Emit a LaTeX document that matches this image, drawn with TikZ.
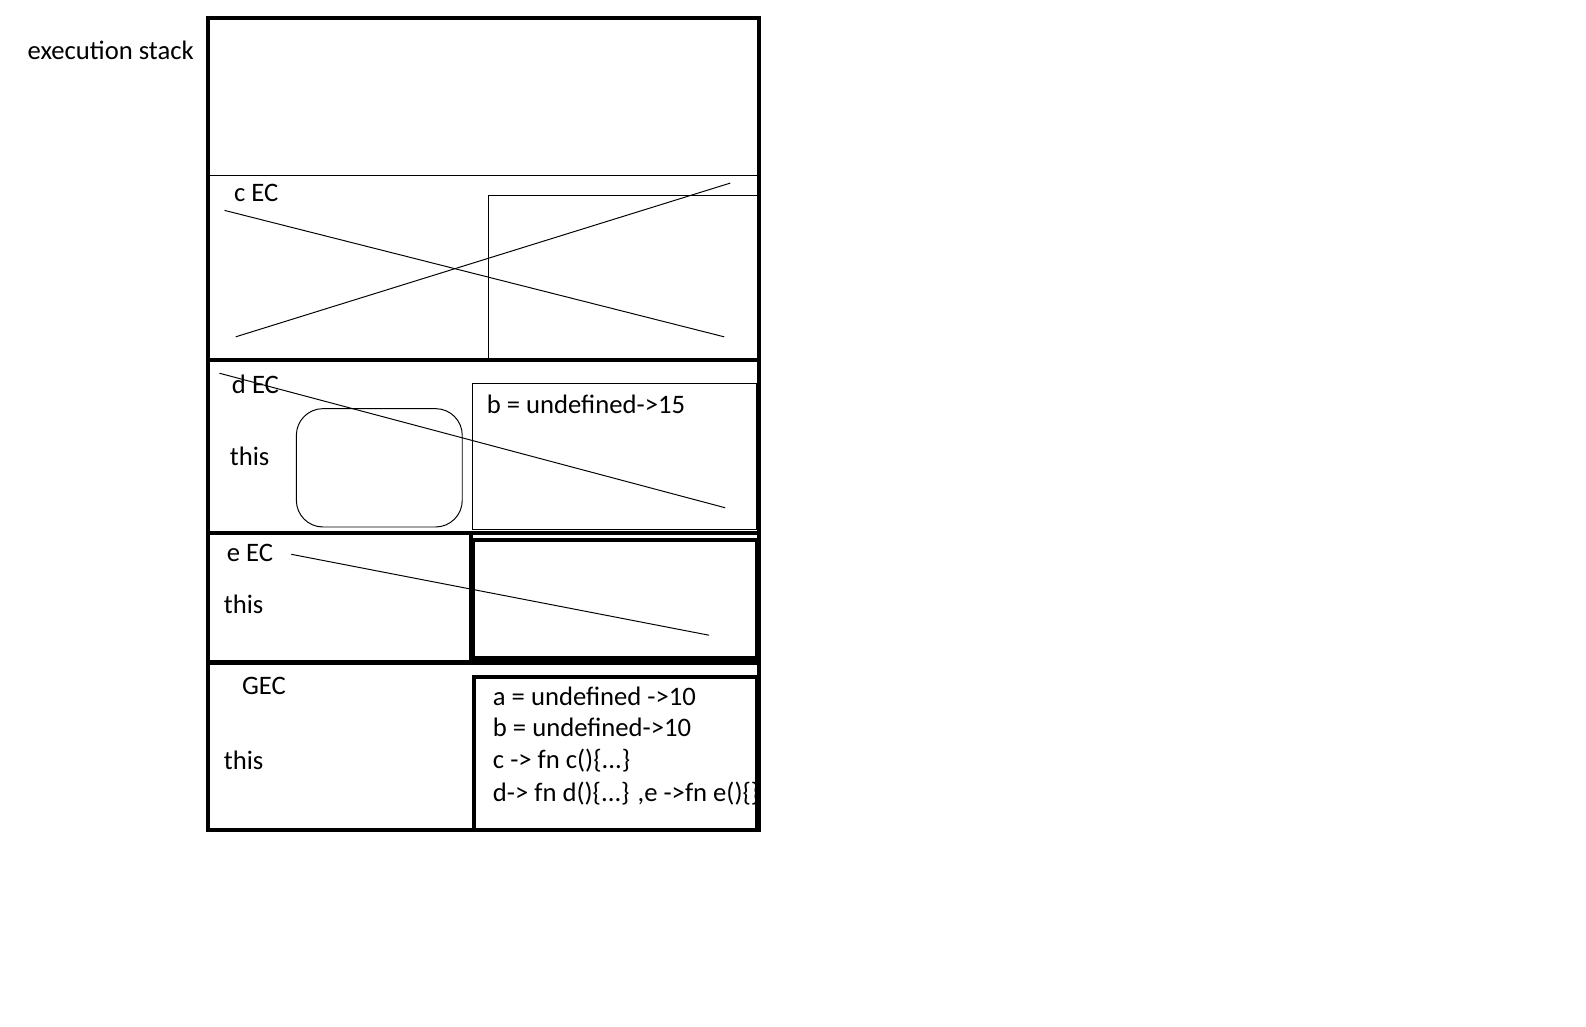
\documentclass[tikz,border=0pt]{standalone}
\usepackage{fontspec}
\setmainfont{Carlito}
\usepackage{tikz}

\begin{document}
\begin{tikzpicture}[x=0.02cm,y=-0.02cm,
  lbl/.style={anchor=west,inner sep=0pt,font=\fontsize{15}{17}\selectfont},
  heavy/.style={line width=2.3pt},
  light/.style={line width=0.55pt}]
\useasboundingbox (0,0) rectangle (1568,1015);

\node[lbl] (stack) at (27,50) {execution stack};

% the stack and its frames
\draw[heavy] (206,18) rectangle (750,821);
\draw[light] (206,173) -- (748,173);
\draw[heavy] (204,356) -- (752,356);
\draw[heavy] (204,527) -- (752,527);
\draw[heavy] (204,655) -- (752,655);

% c EC
\node[lbl] (cEC) at (231,191) {c EC};
\draw[light] (483,356) -- (483,193) -- (748,193);
\draw[light] (222,208) -- (716,333);
\draw[light] (233,333) -- (722,181);

% d EC
\node[lbl] (dEC) at (229,380) {d EC};
\node[lbl] (dthis) at (227,451) {this};
\draw[light,rounded corners=15] (293,404) rectangle (457,521);
\draw[light] (467,379) rectangle (748,523);
\node[lbl] (dvars) at (481,400) {b = undefined->15};
\draw[light] (217,369) -- (717,502);

% e EC
\node[lbl] (eEC) at (224,547) {e EC};
\node[lbl] (ethis) at (221,597) {this};
\draw[heavy] (466,527) -- (466,655);
\draw[heavy] (468,534) rectangle (748,651);
\draw[light] (288,548) -- (701,628);

% GEC
\node[lbl] (gec) at (239,678) {GEC};
\node[lbl] (gthis) at (221,752) {this};
\draw[heavy] (469,669) rectangle (748,821);
\node[lbl] (ga) at (487,688) {a = undefined ->10};
\node[lbl] (gb) at (487,719) {b = undefined->10};
\node[lbl] (gc) at (487,752) {c -> fn c()\{...\}};
\node[lbl] (gd) at (487,785) {d-> fn d()\{...\} ,e ->fn e()\{\}};

\end{tikzpicture}
\end{document}
